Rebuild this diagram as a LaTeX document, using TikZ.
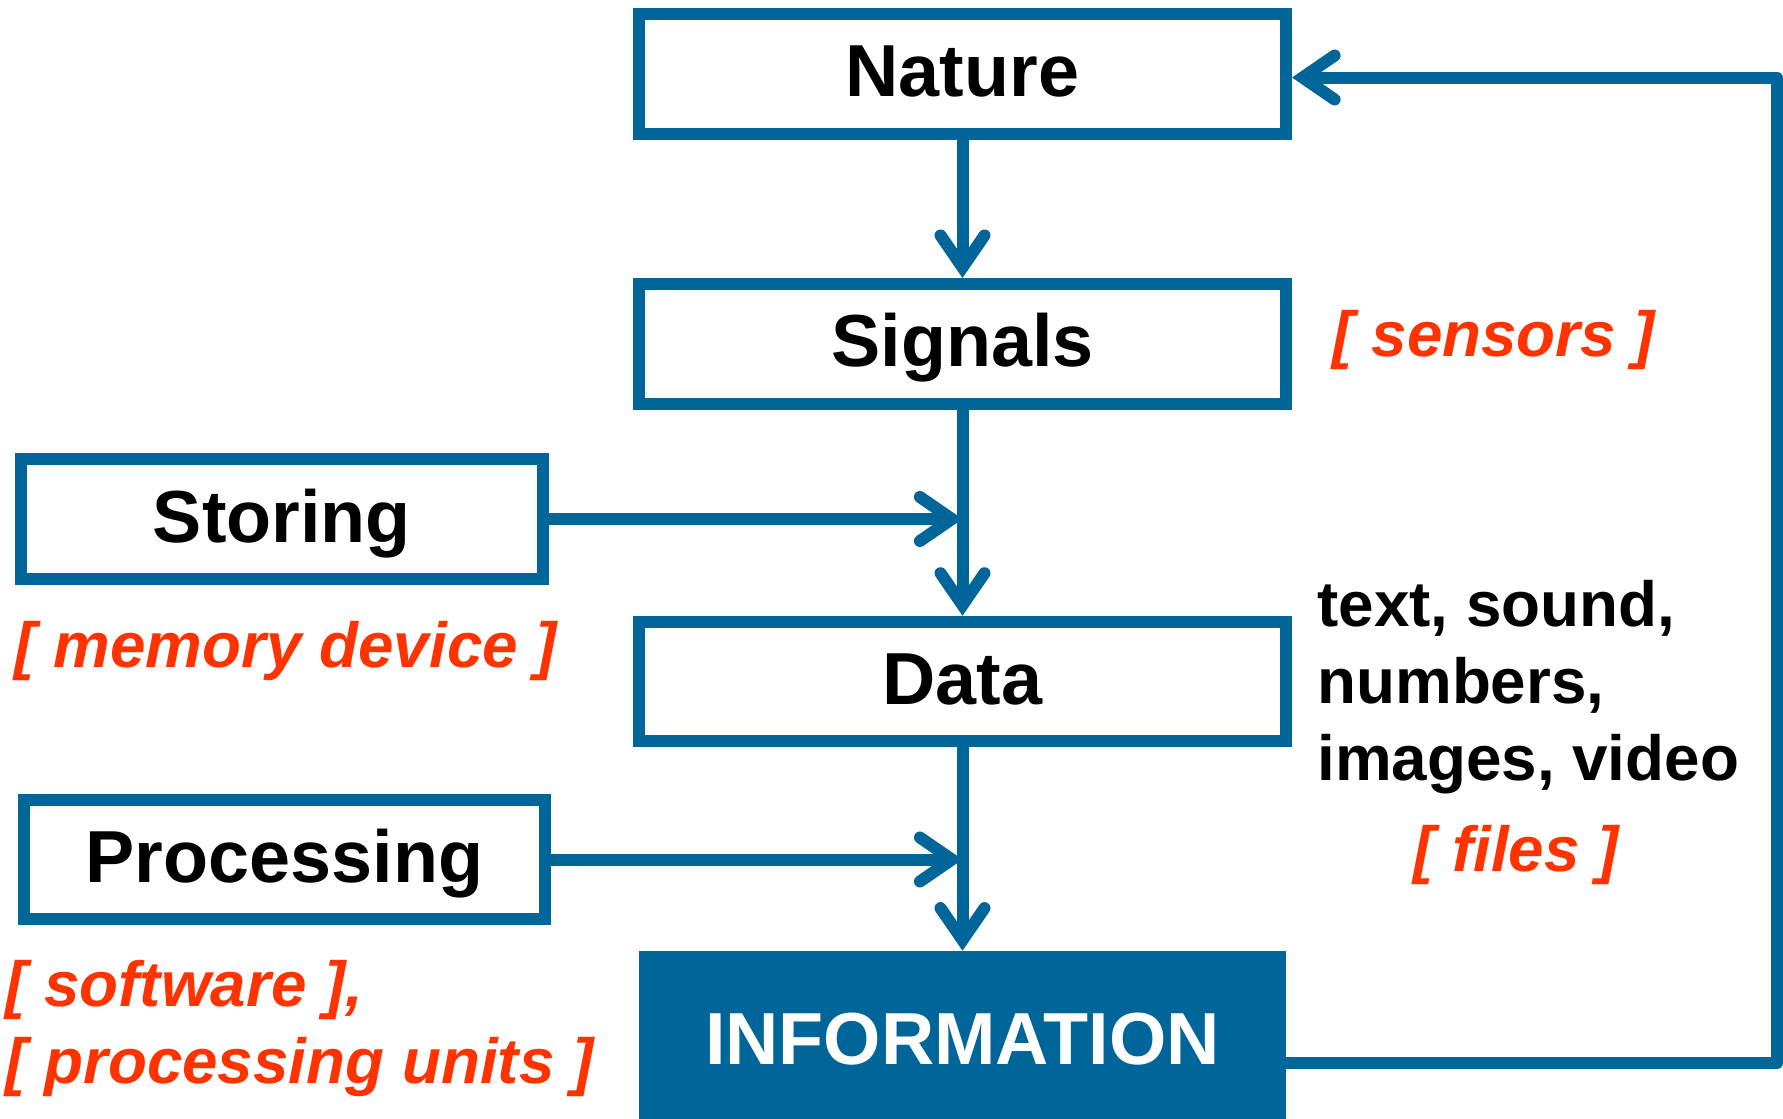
\documentclass[tikz,border=0pt]{standalone}
\usepackage{fontspec}
\setmainfont{Liberation Sans}
\usetikzlibrary{arrows.meta}
\definecolor{flowblue}{HTML}{006699}
\definecolor{notered}{HTML}{FF3300}

\begin{document}
\begin{tikzpicture}[x=0.5bp,y=-0.5bp,
  main node/.style={draw=flowblue,line width=6bp,minimum width=323.5bp,minimum height=59.75bp,
    inner sep=0pt,text height=27bp,text depth=4bp,font=\fontsize{37}{44}\selectfont\bfseries},
  side node/.style={main node,minimum width=260.5bp},
  note/.style={inner sep=0pt,text=notered,font=\fontsize{32}{38.6}\selectfont\bfseries\itshape},
  flow/.style={draw=flowblue,line width=6bp,
    -{Straight Barb[length=16bp,width=22bp,line cap=round,line join=miter]}}]
  \useasboundingbox (0,0) rectangle (1783,1118);

  \node[main node] (nature) at (962.5,73.75) {Nature};
  \node[main node] (signals) at (962.5,343.75) {Signals};
  \node[main node] (data) at (962.5,681.5) {Data};
  \node[side node] (storing) at (282,519) {Storing};
  \node[side node] (processing) at (284.5,859.5) {Processing};
  \node[main node,draw=none,fill=flowblue,text=white,outer sep=0pt,minimum height=90.3bp] (info) at (962.5,1041) {INFORMATION};

  \node[note,anchor=base] (sensors) at (1494,356) {[ sensors ]};
  \node[note,anchor=base] (memory) at (286,667) {[ memory device ]};
  % base of a multi-line node is its last line
  \node[note,anchor=base west,align=left] (software) at (5,1083) {[ software ],\\ {[} processing units ]};
  \node[anchor=base west,align=left,inner sep=0pt,font=\fontsize{32}{38.6}\selectfont\bfseries] (kinds)
    at (1317,780) {text, sound,\\numbers,\\images, video};
  \node[note,anchor=base] (files) at (1516,871) {[ files ]};

  \path[flow]
   (nature) edge (signals)
   (signals) edge (data)
   (storing) edge (storing -| signals.south)
   (data) edge (info)
   (processing) edge (processing -| data.south);

  \coordinate (br) at (1777,1063);
  \coordinate (tr) at (1777,77.5);
  \draw[flow,line join=round] (info.east |- br) -- (br) -- (tr) -- (tr -| nature.east);
\end{tikzpicture}
\end{document}
